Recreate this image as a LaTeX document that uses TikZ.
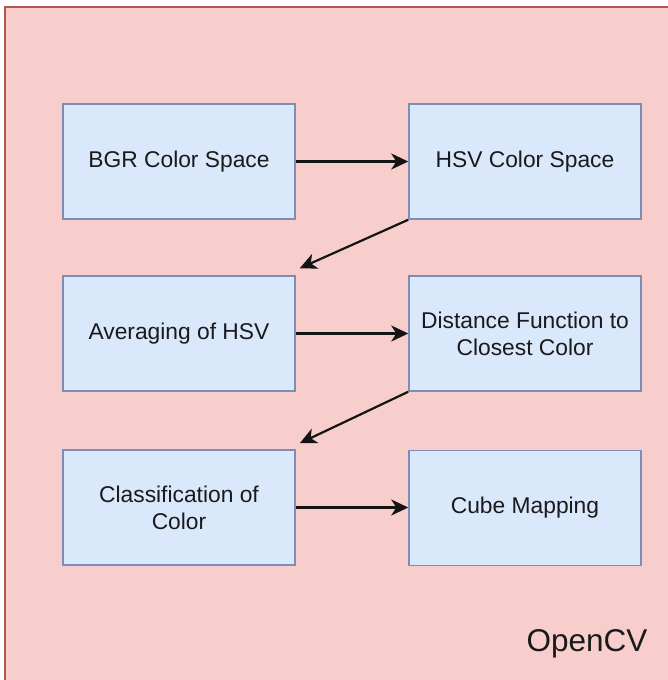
\documentclass[tikz,border=0pt]{standalone}
\usepackage{fontspec}
\setmainfont{Liberation Sans}
\usetikzlibrary{arrows.meta,calc}
\definecolor{outerfill}{HTML}{F8CECC}
\definecolor{outerdraw}{HTML}{B85450}
\definecolor{boxfill}{HTML}{DAE8FC}
\definecolor{boxdraw}{HTML}{7C8DB8}
\definecolor{txt}{HTML}{1A1A1A}
\tikzset{
  stepbox/.style={draw=boxdraw, fill=boxfill, line width=1.5pt, minimum width=232pt, minimum height=115pt, inner sep=0pt, align=center, text=txt, font=\fontsize{22.8}{27}\selectfont},
  flow/.style={line width=2.2pt, draw=black!92, -{Stealth[length=17pt,width=16pt,inset=5pt]}}
}
\begin{document}
\begin{tikzpicture}[x=1pt,y=-1pt]
\useasboundingbox (0,0) rectangle (668,680);
\fill[white] (0,0) rectangle (668,680);
\draw[fill=outerfill, draw=outerdraw, line width=1.5pt] (5,7) rectangle (690,700);
\node[stepbox] (bgr) at (179,161.5) {BGR Color Space};
\node[stepbox] (hsv) at (525,161.5) {HSV Color Space};
\node[stepbox] (avg) at (179,333.5) {Averaging of HSV};
\node[stepbox] (dist) at (525,333.5) {Distance Function to\\Closest Color};
\node[stepbox] (cls) at (179,507.5) {Classification of\\Color};
\node[stepbox] (cube) at (525,508) {Cube Mapping};
\node[font=\fontsize{31.5}{36}\selectfont, text=txt] (cv) at (587,644) {OpenCV};
\draw[flow] (bgr) -- (hsv);
\draw[flow] (avg) -- (dist);
\draw[flow] (cls) -- (cls -| cube.west);
\draw[flow] (hsv.south west) -- ([shift={(4pt,7pt)}]avg.north east);
\draw[flow] (dist.south west) -- ([shift={(4pt,6pt)}]cls.north east);
\end{tikzpicture}
\end{document}
